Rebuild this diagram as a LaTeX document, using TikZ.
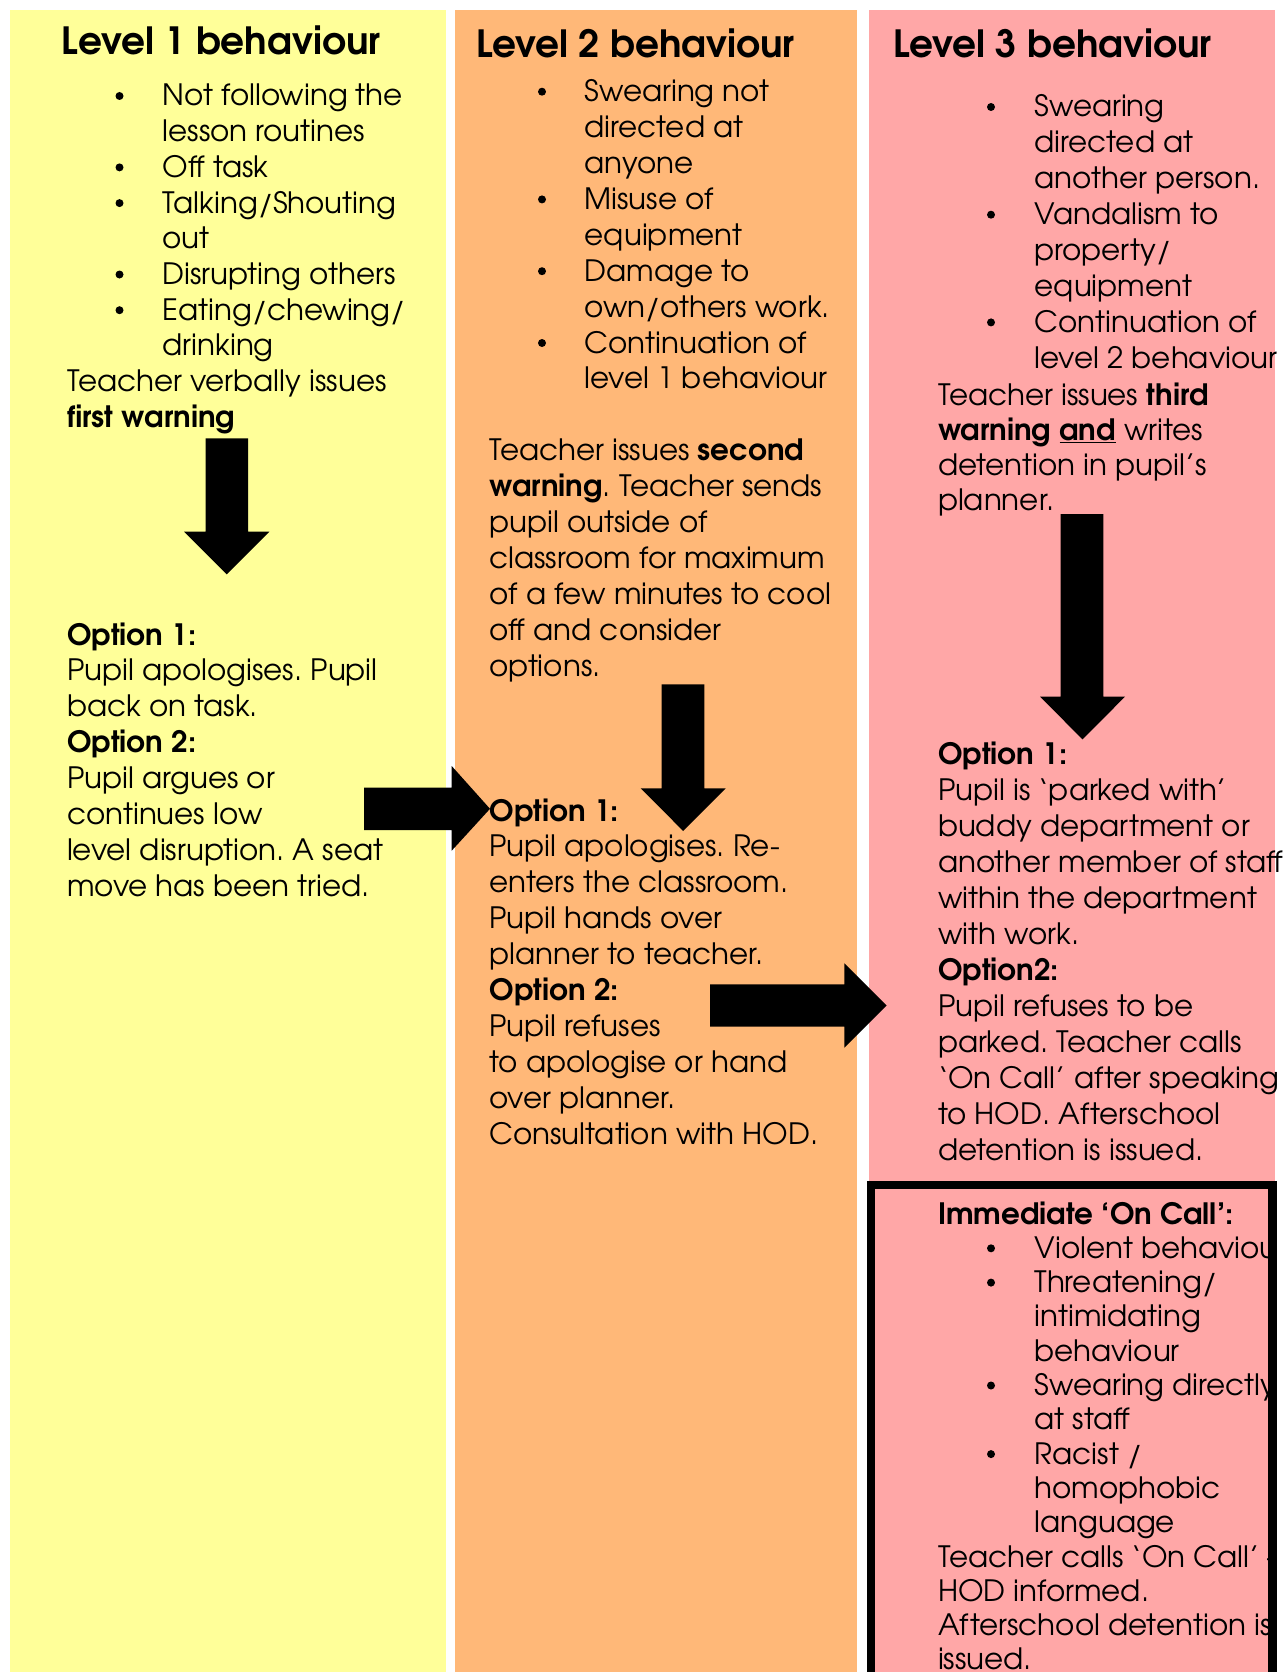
\documentclass[tikz,border=0pt]{standalone}
\usepackage{fontspec}
\setmainfont{TeX Gyre Adventor}
\frenchspacing
\definecolor{lvlone}{HTML}{FFFF99}
\definecolor{lvltwo}{HTML}{FFB878}
\definecolor{lvlthree}{HTML}{FFA7A7}
\begin{document}
\begin{tikzpicture}[x=1pt,y=-1pt,
  txt/.style={anchor=base west,inner sep=0pt,outer sep=0pt,font=\fontsize{29.4}{35}\selectfont\frenchspacing},
  head/.style={anchor=base west,inner sep=0pt,outer sep=0pt,font=\fontsize{37.5}{44}\selectfont\bfseries},
  bul/.style={fill=black,draw=none},
  blockarrow/.style={fill=black,draw=none}]
\useasboundingbox (0,0) rectangle (1287,1672);
\fill[white] (0,0) rectangle (1287,1672);
% columns
\fill[lvlone] (10,10) rectangle (445.5,1672);
\fill[lvltwo] (455,10) rectangle (856.7,1672);
\fill[lvlthree] (869,10) rectangle (1275,1672);

% ---------- Column 1 ----------
\node[head] (h1) at (61.6,55) {Level 1 behaviour};
\node[txt] (a1) at (162.6,106.0) {Not following the};
\node[txt] (a2) at (162.6,141.7) {lesson routines};
\node[txt] (a3) at (162.6,177.4) {Off task};
\node[txt] (a4) at (162.6,213.1) {Talking/Shouting};
\node[txt] (a5) at (162.6,248.8) {out};
\node[txt] (a6) at (162.6,284.5) {Disrupting others};
\node[txt] (a7) at (162.6,320.2) {Eating/chewing/};
\node[txt] (a8) at (162.6,355.9) {drinking};
\node[txt] (a9) at (67,391.6) {Teacher verbally issues};
\node[txt] (a10) at (67,427.3) {\textbf{first warning}};
\foreach \yy in {106.0,177.4,213.1,284.5,320.2} \fill[bul] (119.5,\yy-10) circle (4);

\node[txt] (b1) at (67,645.0) {\textbf{Option 1:}};
\node[txt] (b2) at (67,680.9) {Pupil apologises. Pupil};
\node[txt] (b3) at (67,716.8) {back on task.};
\node[txt] (b4) at (67,752.7) {\textbf{Option 2:}};
\node[txt] (b5) at (67,788.6) {Pupil argues or};
\node[txt] (b6) at (67,824.5) {continues low};
\node[txt] (b7) at (67,860.4) {level disruption. A seat};
\node[txt] (b8) at (67,896.3) {move has been tried.};

% ---------- Column 2 ----------
\node[head] (h2) at (476,57.3) {Level 2 behaviour};
\node[txt] (c1) at (584.6,101.7) {Swearing not};
\node[txt] (c2) at (584.6,137.6) {directed at};
\node[txt] (c3) at (584.6,173.5) {anyone};
\node[txt] (c4) at (584.6,209.4) {Misuse of};
\node[txt] (c5) at (584.6,245.3) {equipment};
\node[txt] (c6) at (584.6,281.2) {Damage to};
\node[txt] (c7) at (584.6,317.1) {own/others work.};
\node[txt] (c8) at (584.6,353.0) {Continuation of};
\node[txt] (c9) at (584.6,388.9) {level 1 behaviour};
\foreach \yy in {101.7,209.4,281.2,353.0} \fill[bul] (542,\yy-10) circle (4);

\node[txt] (d1) at (489.4,460.6) {Teacher issues \textbf{second}};
\node[txt] (d2) at (489.4,496.5) {\textbf{warning}. Teacher sends};
\node[txt] (d3) at (489.4,532.4) {pupil outside of};
\node[txt] (d4) at (489.4,568.3) {classroom for maximum};
\node[txt] (d5) at (489.4,604.2) {of a few minutes to cool};
\node[txt] (d6) at (489.4,640.1) {off and consider};
\node[txt] (d7) at (489.4,676.0) {options.};

\node[txt] (e1) at (489.4,821.0) {\textbf{Option 1:}};
\node[txt] (e2) at (489.4,856.9) {Pupil apologises. Re-};
\node[txt] (e3) at (489.4,892.8) {enters the classroom.};
\node[txt] (e4) at (489.4,928.7) {Pupil hands over};
\node[txt] (e5) at (489.4,964.6) {planner to teacher.};
\node[txt] (e6) at (489.4,1000.5) {\textbf{Option 2:}};
\node[txt] (e7) at (489.4,1036.4) {Pupil refuses};
\node[txt] (e8) at (489.4,1072.3) {to apologise or hand};
\node[txt] (e9) at (489.4,1108.2) {over planner.};
\node[txt] (e10) at (489.4,1144.1) {Consultation with HOD.};

% ---------- Column 3 ----------
\node[head] (h3) at (893,57.3) {Level 3 behaviour};
\node[txt] (f1) at (1034.5,117.0) {Swearing};
\node[txt] (f2) at (1034.5,152.9) {directed at};
\node[txt] (f3) at (1034.5,188.8) {another person.};
\node[txt] (f4) at (1034.5,224.7) {Vandalism to};
\node[txt] (f5) at (1034.5,260.6) {property/};
\node[txt] (f6) at (1034.5,296.5) {equipment};
\node[txt] (f7) at (1034.5,332.4) {Continuation of};
\node[txt] (f8) at (1034.5,368.3) {level 2 behaviour};
\foreach \yy in {117.0,224.7,332.4} \fill[bul] (991,\yy-10) circle (4);

\node[txt] (g1) at (938,405.5) {Teacher issues \textbf{third}};
\node[txt] (g2) at (938,440.5) {\textbf{warning \underline{and}} writes};
\node[txt] (g3) at (938,475.5) {detention in pupil’s};
\node[txt] (g4) at (938,510.5) {planner.};

\node[txt] (k1) at (938,764.5) {\textbf{Option 1:}};
\node[txt] (k2) at (938,800.5) {Pupil is ‘parked with’};
\node[txt] (k3) at (938,836.4) {buddy department or};
\node[txt] (k4) at (938,872.4) {another member of staff};
\node[txt] (k5) at (938,908.3) {within the department};
\node[txt] (k6) at (938,944.3) {with work.};
\node[txt] (k7) at (938,980.2) {\textbf{Option2:}};
\node[txt] (k8) at (938,1016.2) {Pupil refuses to be};
\node[txt] (k9) at (938,1052.1) {parked. Teacher calls};
\node[txt] (k10) at (938,1088.1) {‘On Call’ after speaking};
\node[txt] (k11) at (938,1124.0) {to HOD. Afterschool};
\node[txt] (k12) at (938,1160.0) {detention is issued.};

% ---------- Immediate On Call box ----------
\begin{scope}
\clip (875,1188) rectangle (1269,1672);
\node[txt] (m1) at (938,1224.0) {\textbf{Immediate ‘On Call’:}};
\node[txt] (m2) at (1034.5,1258.3) {Violent behaviour};
\node[txt] (m3) at (1034.5,1292.6) {Threatening/};
\node[txt] (m4) at (1034.5,1326.9) {intimidating};
\node[txt] (m5) at (1034.5,1361.2) {behaviour};
\node[txt] (m6) at (1034.5,1395.5) {Swearing directly};
\node[txt] (m7) at (1034.5,1429.8) {at staff};
\node[txt] (m8) at (1034.5,1464.1) {Racist /};
\node[txt] (m9) at (1034.5,1498.4) {homophobic};
\node[txt] (m10) at (1034.5,1532.7) {language};
\node[txt] (m11) at (938,1567.0) {Teacher calls ‘On Call’ –};
\node[txt] (m12) at (938,1601.3) {HOD informed.};
\node[txt] (m13) at (938,1635.6) {Afterschool detention is};
\node[txt] (m14) at (938,1669.9) {issued.};
\end{scope}
\foreach \yy in {1258.3,1292.6,1395.5,1464.1} \fill[bul] (991,\yy-10) circle (4);
\draw[line width=8.5pt] (871,1690) -- (871,1184.8) -- (1272.5,1184.8) -- (1272.5,1690);

% ---------- Block arrows ----------
\fill[blockarrow] (205.7,438.3) -- (248,438.3) -- (248,531.7) -- (269.3,531.7) -- (226.8,574.3) -- (184,531.7) -- (205.7,531.7) -- cycle;
\fill[blockarrow] (364,787.7) -- (451.7,787.7) -- (451.7,766) -- (490,808.8) -- (451.7,850.7) -- (451.7,830) -- (364,830) -- cycle;
\fill[blockarrow] (661.7,684.3) -- (704.3,684.3) -- (704.3,788.3) -- (725.7,788.3) -- (683.2,831) -- (640.7,788.3) -- (661.7,788.3) -- cycle;
\fill[blockarrow] (710,984.3) -- (844.3,984.3) -- (844.3,963.3) -- (886.7,1005.5) -- (844.3,1047.7) -- (844.3,1026.7) -- (710,1026.7) -- cycle;
\fill[blockarrow] (1060.7,514) -- (1103.3,514) -- (1103.3,696.7) -- (1125,696.7) -- (1082.5,739.3) -- (1040,696.7) -- (1060.7,696.7) -- cycle;
\end{tikzpicture}
\end{document}
